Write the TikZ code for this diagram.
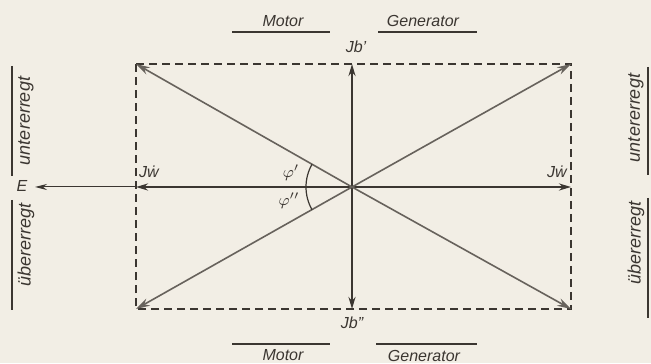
\documentclass[tikz,border=0pt]{standalone}
\usepackage{fontspec}
\setmainfont{Liberation Sans}
\usetikzlibrary{positioning,arrows.meta}
\definecolor{paper}{HTML}{F2EEE5}
\definecolor{ink}{HTML}{3B3631}
\definecolor{greyink}{HTML}{67625C}
\begin{document}
\begin{tikzpicture}[x=0.5pt, y=0.5pt,
    lbl/.style={font=\itshape\fontsize{8}{9}\selectfont, text=ink, inner sep=1pt},
    sidelbl/.style={lbl, font=\itshape\fontsize{9}{10}\selectfont, rotate=90},
    axis/.style={draw=ink, line width=1.1pt, -{Stealth[length=6pt,width=3.5pt]}},
    vec/.style={draw=greyink, line width=0.8pt, -{Stealth[length=7pt,width=4pt]}},
    thinvec/.style={draw=ink, line width=0.5pt, -{Stealth[length=6pt,width=3pt]}},
    frame/.style={draw=ink, line width=0.6pt, dash pattern=on 4pt off 2.5pt},
    bar/.style={draw=ink, line width=0.8pt}
]
    \fill[paper] (0,0) rectangle (651,363);
    \useasboundingbox (0,0) rectangle (651,363);

    % corners and axis ends
    \coordinate (O) at (352,176);
    \coordinate (tl) at (136,299);
    \coordinate (tr) at (571,299);
    \coordinate (bl) at (136,54);
    \coordinate (br) at (571,54);
    \coordinate (bt) at (352,299);
    \coordinate (bb) at (352,54);
    \coordinate (wl) at (136,176);
    \coordinate (wr) at (571,176);
    \coordinate (e) at (35,176);

    \draw[frame] (tl) -- (tr) -- (br) -- (bl) -- cycle;

    \draw[axis] (O) -- (bt);
    \draw[axis] (O) -- (bb);
    \draw[axis] (O) -- (wl);
    \draw[axis] (O) -- (wr);
    \draw[thinvec] (wl) -- (e);

    \draw[vec] (O) -- (tl);
    \draw[vec] (O) -- (tr);
    \draw[vec] (O) -- (bl);
    \draw[vec] (O) -- (br);

    % angles
    \draw[ink, line width=0.6pt] (O) ++(150.3:46) arc[start angle=150.3, end angle=180, radius=46];
    \draw[ink, line width=0.6pt] (O) ++(180:46) arc[start angle=180, end angle=209.7, radius=46];
    \node[lbl] (phi1) at (291,190) {$\varphi'$};
    \node[lbl] (phi2) at (289,162) {$\varphi''$};

    \node[lbl] (jb1) at (356,316) {Jb'};
    \node[lbl] (jb2) at (352,40) {Jb''};
    \node[lbl] (jw1) at (149,191) {J\.{w}};
    \node[lbl] (jw2) at (557,191) {J\.{w}};
    \node[lbl] (elbl) at (22,177) {E};

    % Motor / Generator
    \node[lbl] (mot1) at (283,342) {Motor};
    \node[lbl] (gen1) at (423,342) {Generator};
    \draw[bar] (232,331) -- (330,331);
    \draw[bar] (378,331) -- (477,331);
    \node[lbl] (mot2) at (283,8) {Motor};
    \node[lbl] (gen2) at (424,7) {Generator};
    \draw[bar] (232,19) -- (330,19);
    \draw[bar] (376,19) -- (477,19);

    % side marks
    \draw[bar] (12,297) -- (12,187);
    \draw[bar] (12,163) -- (12,53);
    \node[sidelbl] (lu) at (26,242) {untererregt};
    \node[sidelbl] (lo) at (26,118) {übererregt};
    \draw[bar] (648,296) -- (648,188);
    \draw[bar] (648,165) -- (648,45);
    \node[sidelbl] (ru) at (636,245) {untererregt};
    \node[sidelbl] (ro) at (636,120) {übererregt};
\end{tikzpicture}
\end{document}
